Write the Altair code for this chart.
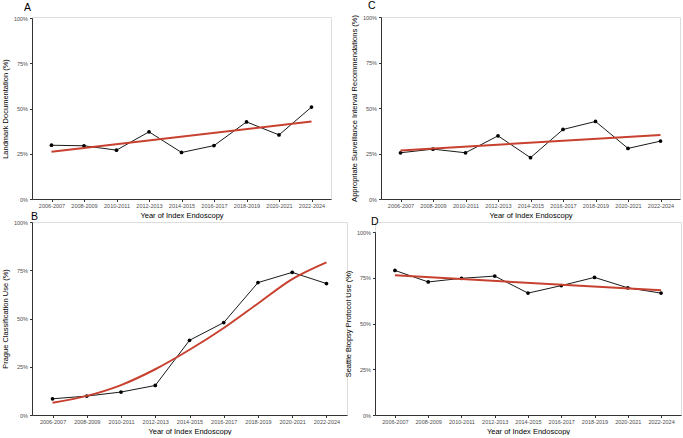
import altair as alt
import pandas as pd

# Two-year periods of the index endoscopy
periods = ["2006-2007", "2008-2009", "2010-2011", "2012-2013", "2014-2015",
           "2016-2017", "2018-2019", "2020-2021", "2022-2024"]

# Observed proportions (%) per period
landmark = [29.7, 29.4, 27.0, 37.1, 25.7, 29.5, 42.6, 35.4, 50.8]
surveillance = [25.4, 27.4, 25.4, 34.7, 22.7, 38.2, 42.6, 27.8, 31.8]
prague = [8.4, 9.8, 11.9, 15.3, 38.7, 47.9, 68.6, 73.9, 68.1]
seattle = [79.0, 72.7, 74.7, 75.9, 66.6, 70.7, 75.2, 69.5, 66.6]

# Fitted trends (%): straight lines given by their end periods,
# the Prague curve given at every period
trend_ends = [periods[0], periods[-1]]
landmark_trend = [26.1, 42.8]
surveillance_trend = [26.7, 35.1]
seattle_trend = [76.3, 68.2]
prague_trend = [6.4, 9.9, 15.5, 23.7, 33.8, 45.1, 57.8, 70.4, 79.1]

FONT = "Liberation Sans"
RED = "#C8402F"
AXIS_COLOR = "#333333"


def panel(values, trend_x, trend_y, ytitle, letter, w, h, yrange,
          title_dx, title_offset, smooth=False):
    obs = pd.DataFrame({"period": periods, "value": values})
    fit = pd.DataFrame({"period": trend_x, "value": trend_y})

    x = alt.X(
        "period:O",
        sort=periods,
        scale=alt.Scale(type="point", domain=periods, padding=0.6),
        axis=alt.Axis(
            title="Year of Index Endoscopy", labelAngle=0, labelFontSize=5.5,
            labelColor="#4D4D4D", labelPadding=2, titleFontSize=7.5,
            titleFontWeight="normal", titleColor="#000000", titlePadding=2,
            tickSize=2.5, tickColor=AXIS_COLOR, domainColor=AXIS_COLOR,
            domainWidth=1, grid=False, labelFont=FONT, titleFont=FONT,
        ),
    )
    y = alt.Y(
        "value:Q",
        scale=alt.Scale(domain=[0, 100], nice=False, zero=True, range=yrange),
        axis=alt.Axis(
            title=ytitle, values=[0, 25, 50, 75, 100],
            labelExpr="datum.value + '%'", labelFontSize=5.5,
            labelColor="#4D4D4D", labelPadding=2, titleFontSize=7.5,
            titleFontWeight="normal", titleColor="#000000", titlePadding=4,
            tickSize=2.5, tickColor=AXIS_COLOR, domainColor=AXIS_COLOR,
            domainWidth=1, grid=False, labelFont=FONT, titleFont=FONT,
        ),
    )

    base = alt.Chart(obs).encode(x=x, y=y)
    line = base.mark_line(color="#1a1a1a", strokeWidth=1)
    pts = base.mark_circle(color="#000000", size=14, opacity=1)
    trend = alt.Chart(fit).mark_line(
        color=RED, strokeWidth=2,
        interpolate="monotone" if smooth else "linear",
    ).encode(x=alt.X("period:O", sort=periods), y="value:Q")

    return alt.layer(line, pts, trend).properties(
        width=w, height=h,
        title=alt.TitleParams(
            letter, anchor="start", frame="group", fontSize=10.5,
            fontWeight="normal", font=FONT, color="#000000",
            dx=title_dx, offset=title_offset,
        ),
    )


a = panel(landmark, trend_ends, landmark_trend,
          "Landmark Documentation (%)", "A", 299, 182, [182, 1], -8, 3)
c = panel(surveillance, trend_ends, surveillance_trend,
          "Appropriate Surveillance Interval Recommendations (%)", "C",
          299, 182, [182, 0], -13, 3)
b = panel(prague, periods, prague_trend,
          "Prague Classification Use (%)", "B", 315, 193, [193, 0], -1, -2,
          smooth=True)
d = panel(seattle, trend_ends, seattle_trend,
          "Seattle Biopsy Protocol Use (%)", "D", 306, 193, [193, 10], -4, -5)

chart = alt.vconcat(
    alt.hconcat(a, c, spacing=17),
    alt.hconcat(b, d, spacing=-5),
    spacing=-8,
).configure_view(stroke=None).configure(
    padding={"left": 0, "top": 0, "right": 0, "bottom": 0},
    background="#ffffff",
)

chart.save("out.html", embed_options={"renderer": "svg", "actions": False})
